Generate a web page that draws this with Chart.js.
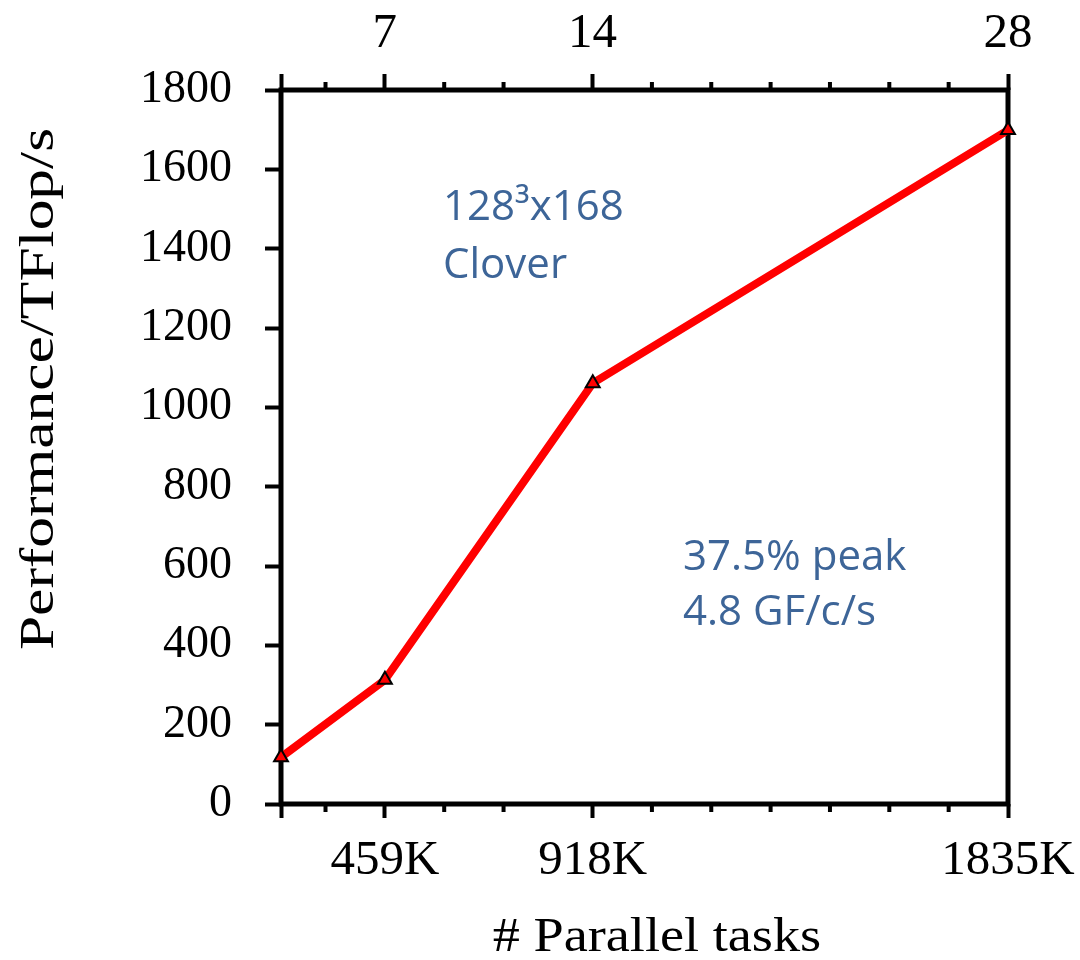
<!DOCTYPE html>
<html>
<head>
<meta charset="utf-8">
<script src="https://cdn.jsdelivr.net/npm/chart.js@4.4.0/dist/chart.umd.min.js"></script>
<style>
  html, body { margin: 0; padding: 0; background: #fff; }
</style>
</head>
<body>
<canvas id="perfChart" width="1080" height="960"></canvas>
<script>
// Data: parallel tasks (thousands) vs performance
const tasksK = [229.5, 459, 918, 1835];
const tflops = [118, 313, 1061, 1699];

// Tick labels
const bottomTicks = [229.5, 459, 918, 1835];
const bottomLabels = ['', '459K', '918K', '1835K'];
const topTicks = [3.5, 7, 14, 28];
const topLabels = ['', '7', '14', '28'];
const topMinorTicks = [5, 9, 11, 16, 18, 20, 22, 24, 26];
const yTicks = [0, 200, 400, 600, 800, 1000, 1200, 1400, 1600, 1800];

const serif = '"Liberation Serif", "Times New Roman", serif';
const noteFont = '42px "Open Sans", "Noto Sans", sans-serif';
const noteColor = '#3d6598';

// stretched serif text, like the original figure's titles
function stretchedText(ctx, text, x, y, angle, sx) {
    ctx.save();
    ctx.translate(x, y);
    ctx.rotate(angle);
    ctx.scale(sx, 1);
    ctx.fillText(text, 0, 0);
    ctx.restore();
}

// keep label overflow from shrinking the plot area
function fixHorizontal(h) {
    return s => {
        s.height = h;
        s.paddingLeft = 0;
        s.paddingRight = 0;
    };
}

// Frame, minor ticks, titles and notes
const extrasPlugin = {
    id: 'extras',
    beforeDatasetsDraw(chart) {
        const ctx = chart.ctx;
        const a = chart.chartArea;
        const top = chart.scales.x2;
        ctx.save();
        ctx.strokeStyle = '#000';
        ctx.lineWidth = 5;
        ctx.strokeRect(a.left, a.top, a.right - a.left, a.bottom - a.top);
        ctx.lineWidth = 4;
        topMinorTicks.forEach(v => {
            const px = top.getPixelForValue(v);
            ctx.beginPath();
            ctx.moveTo(px, a.top);
            ctx.lineTo(px, a.top - 8);
            ctx.moveTo(px, a.bottom);
            ctx.lineTo(px, a.bottom + 8);
            ctx.stroke();
        });
        ctx.restore();
    },
    afterDraw(chart) {
        const ctx = chart.ctx;
        ctx.save();
        ctx.fillStyle = '#000';
        ctx.font = '48px ' + serif;
        ctx.textAlign = 'center';
        ctx.textBaseline = 'middle';
        stretchedText(ctx, '# Parallel tasks', 657, 938, 0, 1.13);
        stretchedText(ctx, 'Performance/TFlop/s', 40, 389, -Math.PI / 2, 1.28);
        ctx.restore();

        ctx.save();
        ctx.fillStyle = noteColor;
        ctx.font = noteFont;
        ctx.textAlign = 'left';
        ctx.textBaseline = 'middle';
        ctx.fillText('128³x168', 443, 208);
        ctx.fillText('Clover', 443, 266);
        ctx.fillText('37.5% peak', 683, 558);
        ctx.fillText('4.8 GF/c/s', 683, 613);
        ctx.restore();
    }
};

const yTickFont = { family: serif, size: 46 };
const xTickFont = { family: serif, size: 49 };

const ctx = document.getElementById('perfChart').getContext('2d');
const perfChart = new Chart(ctx, {
    type: 'line',
    data: {
        datasets: [{
            data: tasksK.map((x, i) => ({ x: x, y: tflops[i] })),
            xAxisID: 'x',
            yAxisID: 'y',
            borderColor: '#ff0000',
            borderWidth: 8,
            pointStyle: 'triangle',
            pointRadius: 8,
            pointBackgroundColor: '#ff0000',
            pointBorderColor: '#000',
            pointBorderWidth: 2,
            tension: 0,
            clip: false
        }]
    },
    options: {
        responsive: false,
        animation: false,
        devicePixelRatio: 1,
        layout: { padding: { left: 0, right: 72, top: 0, bottom: 0 } },
        plugins: { legend: { display: false }, tooltip: { enabled: false } },
        scales: {
            x: {
                type: 'linear',
                position: 'bottom',
                min: 229.5,
                max: 1835,
                afterBuildTicks: s => { s.ticks = bottomTicks.map(v => ({ value: v })); },
                afterFit: fixHorizontal(156),
                ticks: {
                    autoSkip: false,
                    maxRotation: 0,
                    color: '#000',
                    font: xTickFont,
                    padding: 14,
                    callback: v => bottomLabels[bottomTicks.indexOf(v)]
                },
                grid: { drawOnChartArea: false, tickLength: 14, tickWidth: 4, tickColor: '#000' },
                border: { display: false }
            },
            x2: {
                type: 'linear',
                position: 'top',
                min: 3.5,
                max: 28,
                afterBuildTicks: s => { s.ticks = topTicks.map(v => ({ value: v })); },
                afterFit: fixHorizontal(90),
                ticks: {
                    autoSkip: false,
                    maxRotation: 0,
                    color: '#000',
                    font: xTickFont,
                    padding: 10,
                    callback: v => topLabels[topTicks.indexOf(v)]
                },
                grid: { drawOnChartArea: false, tickLength: 16, tickWidth: 4, tickColor: '#000' },
                border: { display: false }
            },
            y: {
                type: 'linear',
                position: 'left',
                min: 0,
                max: 1800,
                afterBuildTicks: s => { s.ticks = yTicks.map(v => ({ value: v })); },
                afterFit: s => { s.width = 281; s.paddingTop = 0; s.paddingBottom = 0; },
                ticks: {
                    color: '#000',
                    font: yTickFont,
                    padding: 33,
                    callback: v => String(v)
                },
                grid: { drawOnChartArea: false, tickLength: 16, tickWidth: 4, tickColor: '#000' },
                border: { display: false }
            }
        }
    },
    plugins: [extrasPlugin]
});
</script>
</body>
</html>
